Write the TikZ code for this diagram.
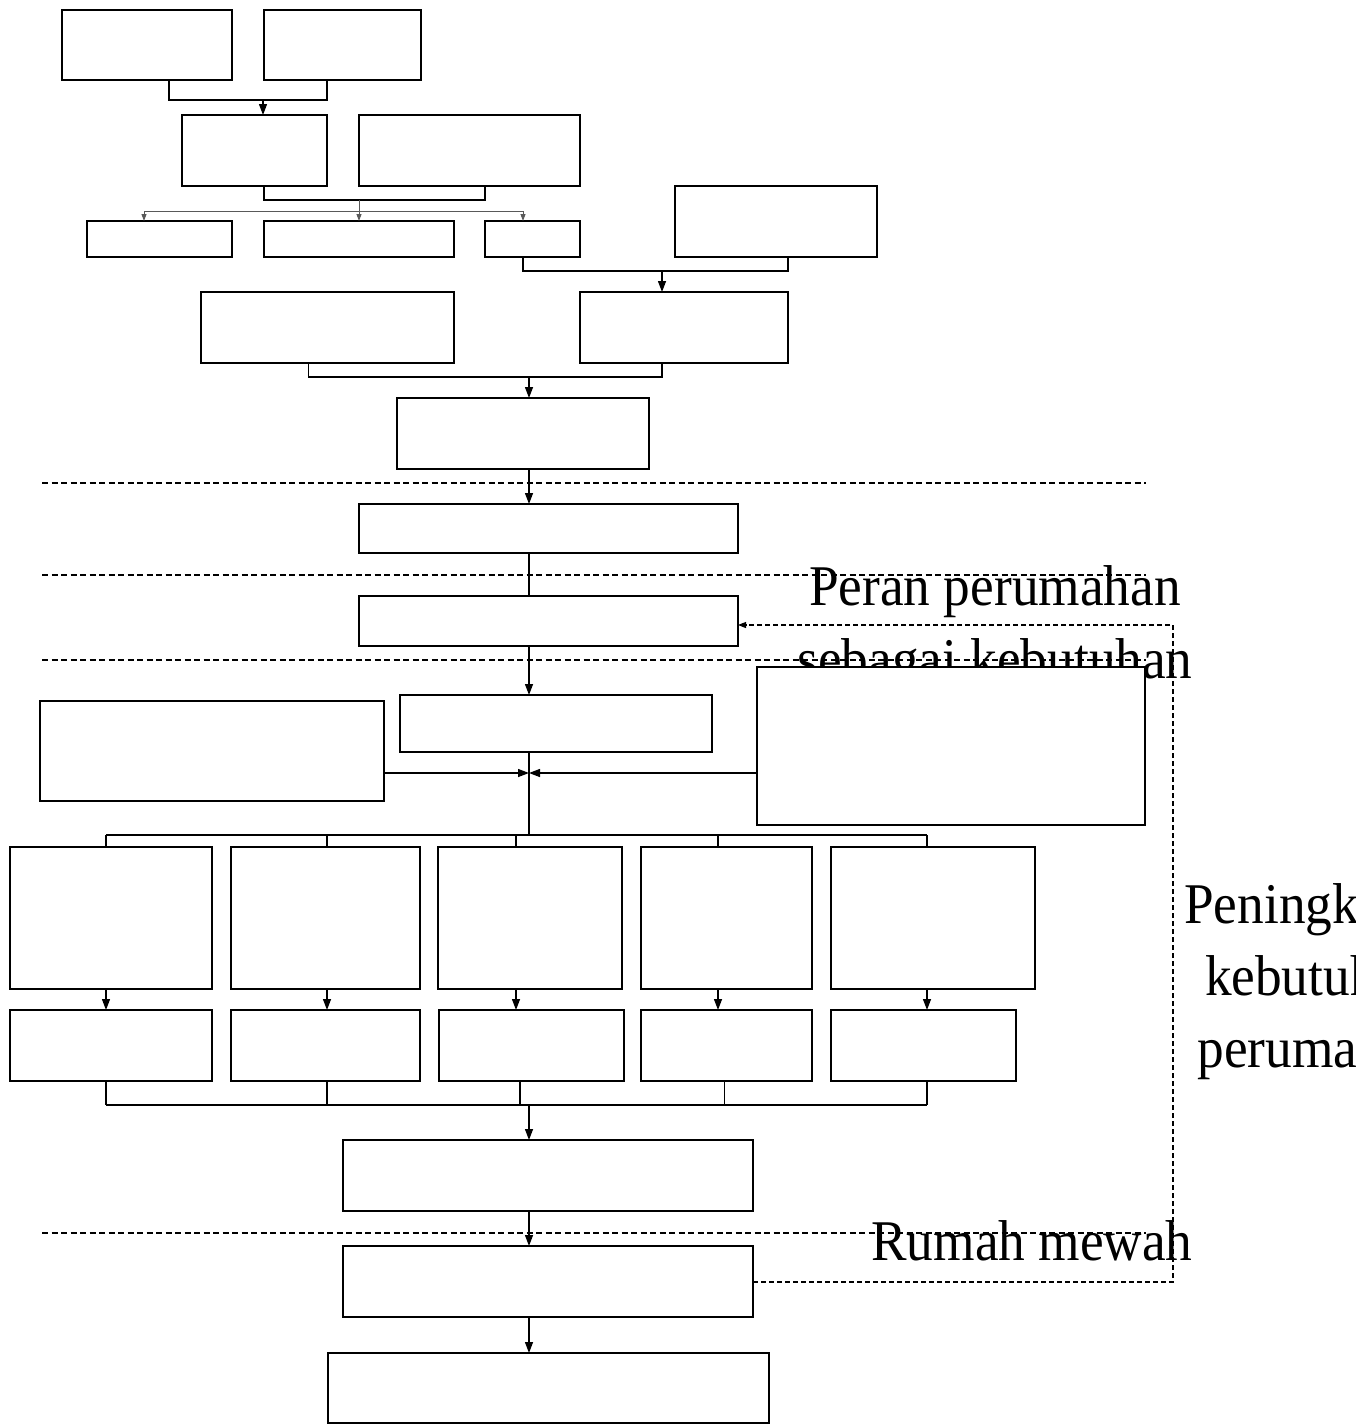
\documentclass[tikz,border=0pt]{standalone}
\usepackage{fontspec}
\setmainfont{Liberation Serif}
\usetikzlibrary{arrows.meta}
\begin{document}
\begin{tikzpicture}[x=1pt,y=-1pt,
  box/.style n args={2}{draw, fill=white, line width=1.3pt, inner sep=0pt,
    outer sep=0pt, minimum width=#1pt, minimum height=#2pt},
  wire/.style={line width=1.3pt},
  arrowline/.style={wire, -{Triangle[length=11pt,width=8pt]}},
  thinline/.style={line width=0.9pt, black!65},
  thinarrow/.style={thinline, -{Triangle[length=7pt,width=5pt]}},
  sepline/.style={line width=1.1pt, dash pattern=on 6pt off 3.5pt},
  feedback/.style={line width=1.1pt, dash pattern=on 5pt off 3pt,
    -{Triangle[length=8pt,width=6pt]}},
  bigtext/.style={anchor=base, inner sep=0pt, font=\fontsize{53.3pt}{72pt}\selectfont}
]
\useasboundingbox (0,0) rectangle (1355,1427);
\clip (0,0) rectangle (1355,1427);
\fill[white] (0,0) rectangle (1355,1427);

% side labels
\node[bigtext] (lblperan1) at (995,605) {\scalebox{1}[1.08]{Peran perumahan}};
\node[bigtext] (lblperan2) at (995,678) {\scalebox{1}[1.08]{sebagai kebutuhan}};
\node[bigtext] (lblnaik1) at (1316,923) {\scalebox{1}[1.08]{Peningkatan}};
\node[bigtext] (lblnaik2) at (1316,995) {\scalebox{1}[1.08]{kebutuhan}};
\node[bigtext] (lblnaik3) at (1316,1067) {\scalebox{1}[1.08]{perumahan}};
\node[bigtext] (lblmewah) at (1032,1260) {\scalebox{1}[1.08]{Rumah mewah}};

% horizontal separators
\coordinate (s1l) at (42,483);  \coordinate (s1r) at (1146,483);
\coordinate (s2l) at (42,575);  \coordinate (s2r) at (1146,575);
\coordinate (s3l) at (42,660);  \coordinate (s3r) at (1146,660);
\coordinate (s4l) at (42,1233); \coordinate (s4r) at (1146,1233);
\foreach \s in {1,2,3,4} \draw[sepline] (s\s l) -- (s\s r);

% boxes
\node[box={170}{70}] (a1) at (147,45) {};
\node[box={157}{70}] (a2) at (342.5,45) {};
\node[box={145}{71}] (b1) at (254.5,150.5) {};
\node[box={221}{71}] (b2) at (469.5,150.5) {};
\node[box={145}{36}] (c1) at (159.5,239) {};
\node[box={190}{36}] (c2) at (359,239) {};
\node[box={95}{36}]  (c3) at (532.5,239) {};
\node[box={202}{71}] (c4) at (776,221.5) {};
\node[box={253}{71}] (d1) at (327.5,327.5) {};
\node[box={208}{71}] (d2) at (684,327.5) {};
\node[box={252}{71}] (e)  at (523,433.5) {};
\node[box={379}{49}] (f)  at (548.5,528.5) {};
\node[box={379}{50}] (g)  at (548.5,621) {};
\node[box={312}{57}] (h)  at (556,723.5) {};
\node[box={344}{100}] (i) at (212,751) {};
\node[box={388}{158}] (j) at (951,746) {};
\node[box={202}{142}] (k1) at (111,918) {};
\node[box={189}{142}] (k2) at (325.5,918) {};
\node[box={184}{142}] (k3) at (530,918) {};
\node[box={171}{142}] (k4) at (726.5,918) {};
\node[box={204}{142}] (k5) at (933,918) {};
\node[box={202}{71}] (l1) at (111,1045.5) {};
\node[box={189}{71}] (l2) at (325.5,1045.5) {};
\node[box={185}{71}] (l3) at (531.5,1045.5) {};
\node[box={171}{71}] (l4) at (726.5,1045.5) {};
\node[box={185}{71}] (l5) at (923.5,1045.5) {};
\node[box={410}{71}] (m) at (548,1175.5) {};
\node[box={410}{71}] (n) at (548,1281.5) {};
\node[box={441}{70}] (o) at (548.5,1388) {};

% top two boxes merge into b1
\coordinate (a1d) at (169,100);
\coordinate (a2d) at (327,100);
\coordinate (abj) at (263,100);
\draw[wire] (a1.south -| a1d) -- (a1d) -- (a2d) -- (a2.south -| a2d);
\draw[arrowline] (abj) -- (b1.north -| abj);

% b1 and b2 fan out to the small row
\coordinate (b1d) at (264,200);
\coordinate (b2d) at (485,200);
\coordinate (bj) at (359,200);
\coordinate (cbus) at (359,211);
\coordinate (cl) at (144,211);
\coordinate (cr) at (523,211);
\draw[wire] (b1.south -| b1d) -- (b1d) -- (b2d) -- (b2.south -| b2d);
\draw[thinline] (bj) -- (cbus);
\draw[thinarrow] (cbus) -- (cl) -- (c1.north -| cl);
\draw[thinarrow] (cbus) -- (cr) -- (c3.north -| cr);
\draw[thinarrow] (cbus) -- (c2.north -| cbus);

% c3 and c4 into d2
\coordinate (c3d) at (523,271);
\coordinate (c4d) at (788,271);
\coordinate (cdj) at (662,271);
\draw[wire] (c3.south -| c3d) -- (c3d) -- (c4d) -- (c4.south -| c4d);
\draw[arrowline] (cdj) -- (d2.north -| cdj);

% d1 and d2 into e
\coordinate (d1d) at (308.5,377);
\coordinate (d2d) at (662,377);
\coordinate (dej) at (529,377);
\draw[wire] (d1.south -| d1d) -- (d1d) -- (d2d) -- (d2.south -| d2d);
\draw[arrowline] (dej) -- (e.north -| dej);

% main spine
\coordinate (spine) at (529,0);
\draw[arrowline] (e.south -| spine) -- (f.north -| spine);
\draw[wire] (f.south -| spine) -- (g.north -| spine);
\draw[arrowline] (g.south -| spine) -- (h.north -| spine);

\coordinate (hj) at (529,773);
\coordinate (kbus) at (529,835);
\draw[wire] (h.south -| spine) -- (kbus);
\draw[arrowline] (i.east |- hj) -- (hj);
\draw[arrowline] (j.west |- hj) -- (hj);

% distribution to the five columns
\coordinate (kc1) at (106,835);
\coordinate (kc2) at (327,835);
\coordinate (kc3) at (516,835);
\coordinate (kc4) at (718,835);
\coordinate (kc5) at (927,835);
\draw[wire] (kc1) -- (kc5);
\foreach \c in {1,...,5} {
  \draw[wire] (kc\c) -- (k\c.north -| kc\c);
  \draw[arrowline] (k\c.south -| kc\c) -- (l\c.north -| kc\c);
}

% collect the five columns into m
\coordinate (lc1) at (106,1105);
\coordinate (lc2) at (327,1105);
\coordinate (lc3) at (520,1105);
\coordinate (lc4) at (724.5,1105);
\coordinate (lc5) at (927,1105);
\coordinate (lmj) at (529,1105);
\draw[wire] (lc1) -- (lc5);
\foreach \c in {1,...,5} \draw[wire] (l\c.south -| lc\c) -- (lc\c);
\draw[arrowline] (lmj) -- (m.north -| lmj);
\draw[arrowline] (m.south -| spine) -- (n.north -| spine);
\draw[arrowline] (n.south -| spine) -- (o.north -| spine);

% feedback loop from n back to g
\coordinate (fbb) at (1173,1282);
\coordinate (fbt) at (1173,625);
\draw[feedback] (n.east |- fbb) -- (fbb) -- (fbt) -- (g.east |- fbt);
\end{tikzpicture}
\end{document}
